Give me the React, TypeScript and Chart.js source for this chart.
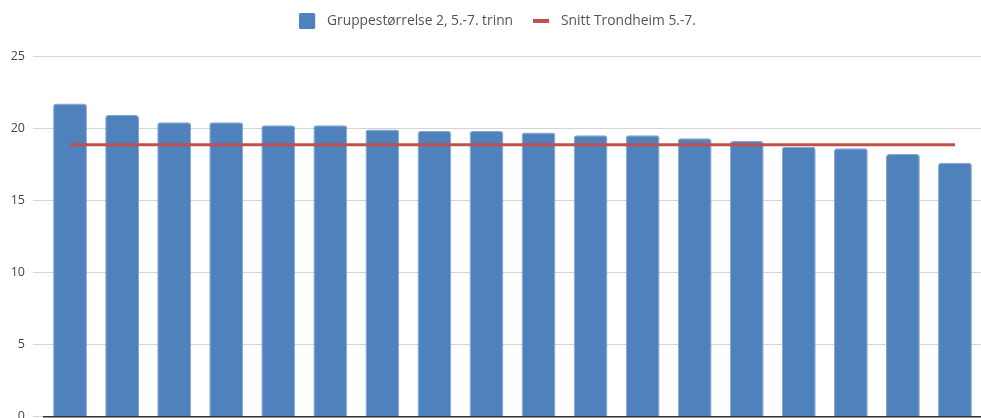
import React, { useEffect, useRef } from "react";
import { Chart, registerables } from "chart.js";

Chart.register(...registerables);

const categories: string[] = [
  "1", "2", "3", "4", "5", "6", "7", "8", "9",
  "10", "11", "12", "13", "14", "15", "16", "17", "18",
];
const groupSizes: number[] = [
  21.7, 20.9, 20.4, 20.4, 20.2, 20.2, 19.9, 19.8, 19.8,
  19.7, 19.5, 19.5, 19.3, 19.1, 18.7, 18.6, 18.2, 17.6,
];
const trondheimAverage: number = 18.85;
const averageValues: number[] = categories.map(() => trondheimAverage);
const yTicks: number[] = [0, 5, 10, 15, 20, 25];
const barLabel = "Gruppestørrelse 2, 5.-7. trinn";
const lineLabel = "Snitt Trondheim 5.-7.";

const BLUE = "#4F81BD";
const RED = "#C0504D";
const FONT = "'Open Sans', 'Noto Sans', sans-serif";

function makeBoxMarker(): HTMLCanvasElement {
  const c = document.createElement("canvas");
  c.width = 21;
  c.height = 16;
  const ctx = c.getContext("2d")!;
  ctx.fillStyle = BLUE;
  ctx.beginPath();
  (ctx as any).roundRect ? (ctx as any).roundRect(0, 0, 16, 16, 1.5) : ctx.rect(0, 0, 16, 16);
  ctx.fill();
  return c;
}

function makeLineMarker(): HTMLCanvasElement {
  const c = document.createElement("canvas");
  c.width = 21;
  c.height = 16;
  const ctx = c.getContext("2d")!;
  ctx.fillStyle = RED;
  ctx.fillRect(0, 6, 16, 4);
  return c;
}

const legendSpacer = {
  id: "legendSpacer",
  beforeInit(chart: any) {
    const legend = chart.legend;
    if (!legend) return;
    const origFit = legend.fit.bind(legend);
    legend.fit = function () {
      origFit();
      this.height = 62;
    };
  },
  afterLayout(chart: any) {
    const legend = chart.legend;
    if (!legend) return;
    legend.left += 7;
    legend.right += 7;
  },
};

export default function App() {
  const canvasRef = useRef<HTMLCanvasElement | null>(null);

  useEffect(() => {
    if (!canvasRef.current) return;
    const boxMarker = makeBoxMarker();
    const lineMarker = makeLineMarker();

    const chart = new Chart(canvasRef.current, {
      data: {
        labels: categories,
        datasets: [
          {
            type: "line",
            label: lineLabel,
            data: averageValues,
            borderColor: RED,
            backgroundColor: RED,
            borderWidth: 3,
            pointRadius: 0,
            pointHoverRadius: 0,
            order: 0,
          },
          {
            type: "bar",
            label: barLabel,
            data: groupSizes,
            backgroundColor: BLUE,
            borderColor: "#86a6d2",
            borderWidth: 1,
            borderRadius: 3,
            borderSkipped: "bottom",
            categoryPercentage: 1,
            barPercentage: 0.65,
            order: 1,
          },
        ],
      } as any,
      options: {
        animation: false,
        responsive: true,
        maintainAspectRatio: false,
        layout: { padding: { top: -6, left: 0, right: 0, bottom: 0 } },
        plugins: {
          tooltip: { enabled: false },
          legend: {
            display: true,
            position: "top",
            labels: {
              usePointStyle: true,
              pointStyleWidth: 21,
              boxHeight: 16,
              padding: 20,
              color: "#555555",
              font: { family: FONT, size: 13.8 },
              generateLabels: () => [
                {
                  text: barLabel,
                  pointStyle: boxMarker,
                  fillStyle: BLUE,
                  strokeStyle: BLUE,
                  lineWidth: 0,
                  hidden: false,
                  datasetIndex: 1,
                  fontColor: "#555555",
                } as any,
                {
                  text: lineLabel,
                  pointStyle: lineMarker,
                  fillStyle: RED,
                  strokeStyle: RED,
                  lineWidth: 0,
                  hidden: false,
                  datasetIndex: 0,
                  fontColor: "#555555",
                } as any,
              ],
            },
          },
        },
        scales: {
          x: {
            type: "category",
            offset: true,
            grid: { display: false },
            border: { display: true, color: "#333333", width: 1.5 },
            ticks: { display: false },
            afterFit: (scale: any) => {
              scale.height = 1.5;
            },
          },
          y: {
            type: "linear",
            min: 0,
            max: 25,
            afterBuildTicks: (scale: any) => {
              scale.ticks = yTicks.map((v) => ({ value: v }));
            },
            grid: {
              color: "#d4d4d4",
              lineWidth: 1,
              drawTicks: true,
              tickLength: 11,
              tickColor: "#d4d4d4",
            },
            border: { display: false },
            ticks: {
              padding: 8,
              color: "#444444",
              font: { family: FONT, size: 12.5 },
            },
            afterFit: (scale: any) => {
              scale.width = 44;
              scale.paddingTop = 0;
              scale.paddingBottom = 0;
            },
          },
        },
      } as any,
      plugins: [legendSpacer],
    });

    return () => chart.destroy();
  }, []);

  return (
    <div
      style={{
        position: "fixed",
        left: 0,
        top: 0,
        width: "981px",
        height: "418px",
        background: "#ffffff",
      }}
    >
      <canvas ref={canvasRef} />
    </div>
  );
}
